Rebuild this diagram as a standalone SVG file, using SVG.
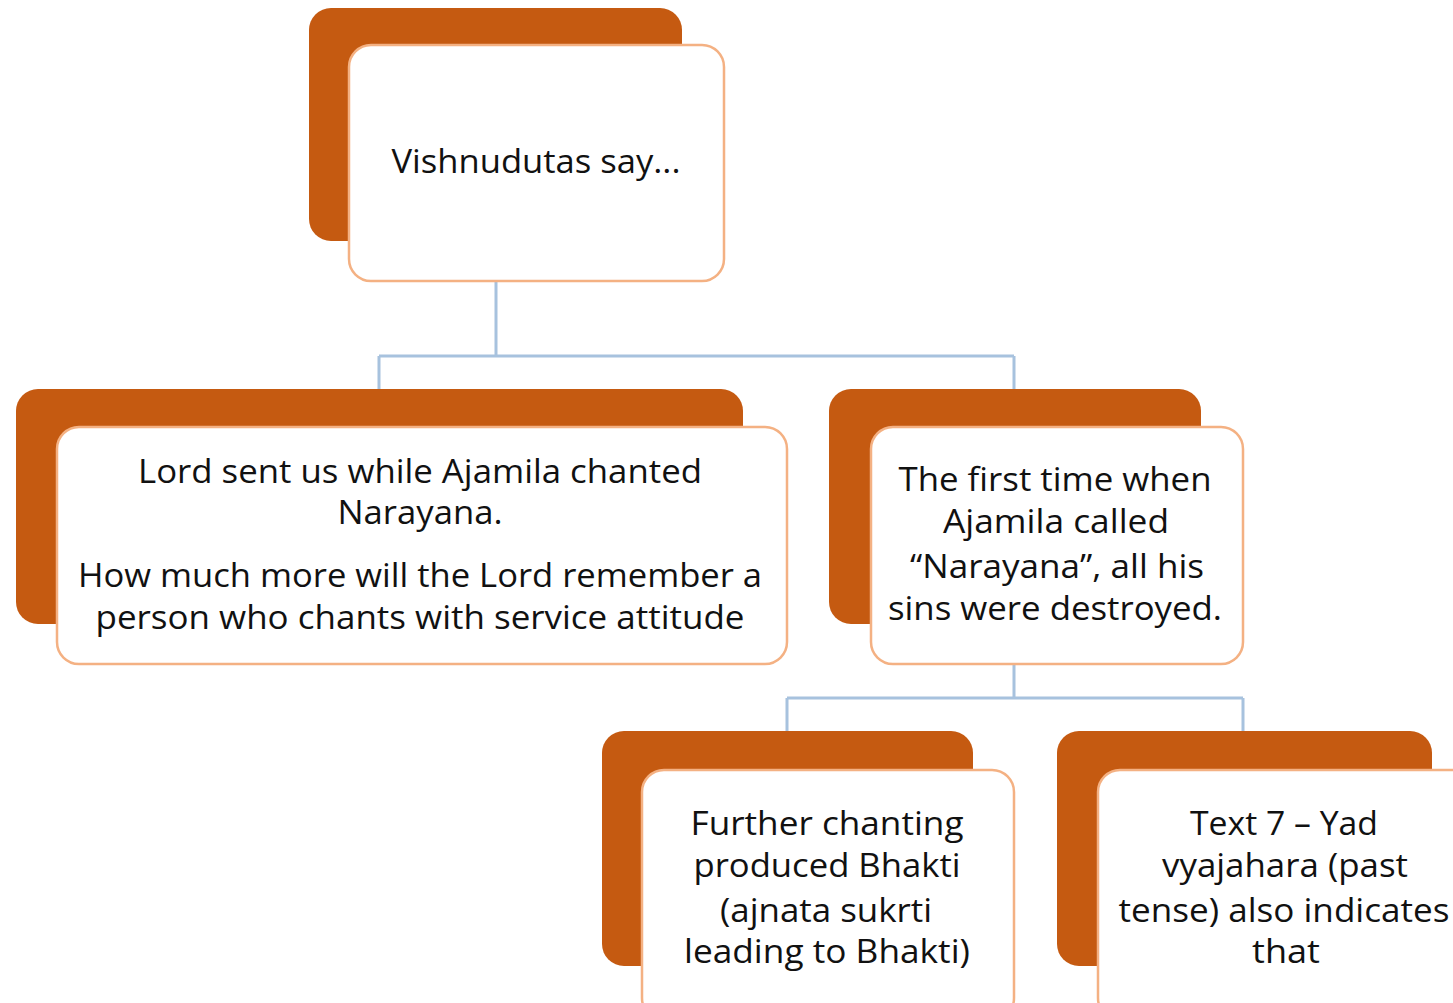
<svg xmlns="http://www.w3.org/2000/svg" width="1453" height="1003" viewBox="0 0 1453 1003">
<style>
.back{fill:#c55a11;}
.front{fill:#ffffff;stroke:#f4b183;stroke-width:2.5;}
.t{font-family:"Open Sans","Liberation Sans",sans-serif;font-size:33px;fill:#111111;text-anchor:middle;}
.c{fill:none;stroke:#a7c2de;stroke-width:3;}
</style>
<rect width="1453" height="1003" fill="#ffffff"/>
<g id="connectors">
<path class="c" d="M496,282 V356 M379,356 H1014 M379,356 V389 M1014,356 V389"/>
<path class="c" d="M1014,664 V698 M787,698 H1243 M787,698 V731 M1243,698 V731"/>
</g>
<g id="n-top">
<rect class="back" x="309" y="8" width="373" height="233" rx="22"/>
<rect class="front" x="349" y="45" width="375" height="236" rx="22"/>
<text class="t" x="536" y="173" textLength="289" lengthAdjust="spacingAndGlyphs">Vishnudutas say...</text>
</g>
<g id="n-left">
<rect class="back" x="16" y="389" width="727" height="235" rx="22"/>
<rect class="front" x="57" y="427" width="730" height="237" rx="22"/>
<text class="t" x="420" y="483" textLength="564" lengthAdjust="spacingAndGlyphs">Lord sent us while Ajamila chanted</text>
<text class="t" x="420" y="524" textLength="165" lengthAdjust="spacingAndGlyphs">Narayana.</text>
<text class="t" x="420" y="587" textLength="684" lengthAdjust="spacingAndGlyphs">How much more will the Lord remember a</text>
<text class="t" x="420" y="629" textLength="649" lengthAdjust="spacingAndGlyphs">person who chants with service attitude</text>
</g>
<g id="n-right">
<rect class="back" x="829" y="389" width="372" height="235" rx="22"/>
<rect class="front" x="871" y="427" width="372" height="237" rx="22"/>
<text class="t" x="1055" y="491" textLength="313" lengthAdjust="spacingAndGlyphs">The first time when</text>
<text class="t" x="1056" y="533" textLength="226" lengthAdjust="spacingAndGlyphs">Ajamila called</text>
<text class="t" x="1057" y="578" textLength="294" lengthAdjust="spacingAndGlyphs">“Narayana”, all his</text>
<text class="t" x="1055" y="620" textLength="334" lengthAdjust="spacingAndGlyphs">sins were destroyed.</text>
</g>
<g id="n-bl">
<rect class="back" x="602" y="731" width="371" height="235" rx="22"/>
<rect class="front" x="642" y="770" width="372" height="250" rx="22"/>
<text class="t" x="827" y="835" textLength="273" lengthAdjust="spacingAndGlyphs">Further chanting</text>
<text class="t" x="827" y="877" textLength="267" lengthAdjust="spacingAndGlyphs">produced Bhakti</text>
<text class="t" x="826" y="922" textLength="212" lengthAdjust="spacingAndGlyphs">(ajnata sukrti</text>
<text class="t" x="827" y="963" textLength="286" lengthAdjust="spacingAndGlyphs">leading to Bhakti)</text>
</g>
<g id="n-br">
<rect class="back" x="1057" y="731" width="375" height="235" rx="22"/>
<rect class="front" x="1098" y="770" width="380" height="250" rx="22"/>
<text class="t" x="1284" y="835" textLength="188" lengthAdjust="spacingAndGlyphs">Text 7 – Yad</text>
<text class="t" x="1285" y="877" textLength="246" lengthAdjust="spacingAndGlyphs">vyajahara (past</text>
<text class="t" x="1284" y="922" textLength="331" lengthAdjust="spacingAndGlyphs">tense) also indicates</text>
<text class="t" x="1286" y="963" textLength="68" lengthAdjust="spacingAndGlyphs">that</text>
</g>
</svg>
